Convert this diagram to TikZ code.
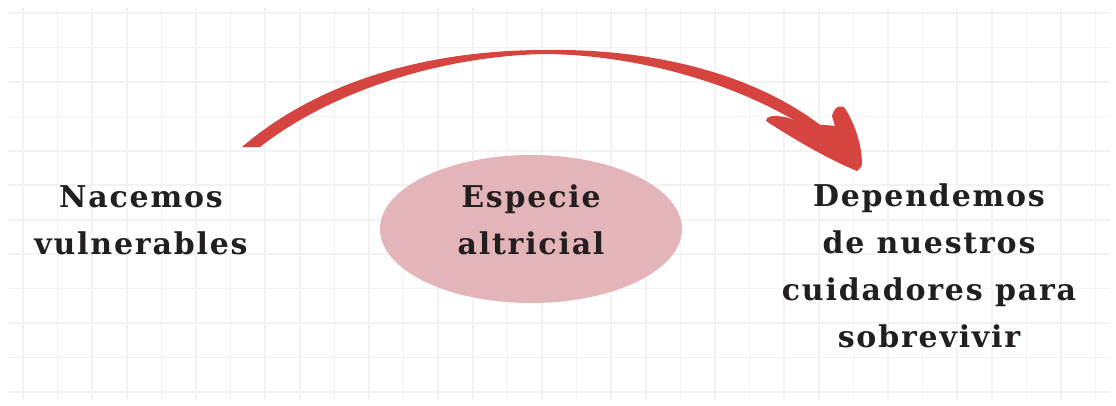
\documentclass[tikz,border=0pt]{standalone}
\usepackage{fontspec}
\setmainfont{DejaVu Serif}[LetterSpace=6]
\usepackage{tikz}
\usetikzlibrary{shapes.geometric}
\definecolor{gridgray}{RGB}{243,243,243}
\definecolor{arrowred}{RGB}{214,68,64}
\definecolor{blobpink}{RGB}{228,181,184}
\definecolor{inkdark}{RGB}{35,31,32}
\tikzset{
	gridline/.style={draw=gridgray, line width=1.6pt},
	bigtext/.style={align=center, text=inkdark, inner sep=0pt, font=\bfseries\fontsize{30}{47}\selectfont},
	blob/.style={ellipse, fill=blobpink, minimum width=302pt, minimum height=148pt, inner sep=0pt}
}
\begin{document}
\begin{tikzpicture}[x=1pt, y=-1pt]
				\useasboundingbox[fill=white] (0,0) rectangle (1116,405);
				\foreach \gx in {0,...,31} {
					\draw[gridline] ({23+\gx*34.6},8) -- ({23+\gx*34.6},400);
				}
				\foreach \gy in {0,...,11} {
					\draw[gridline] (8,{13+\gy*34.45}) -- (1110,{13+\gy*34.45});
				}
				\node[blob] (especie) at (531,229) {};
				\node[bigtext] (altricial) at (531,220) {Especie\\altricial};
				\node[bigtext] (nacemos) at (141,220) {Nacemos\\vulnerables};
				\node[bigtext] (dependemos) at (929,266) {Dependemos\\de nuestros\\cuidadores para\\sobrevivir};
				\coordinate (arrstart) at (251,147);
				\coordinate (arrtip) at (860,168);
				\fill[arrowred] (arrstart) ++(-9,0) .. controls (320,80) and (430,50) .. (545,50)
					.. controls (660,48) and (785,78) .. (856,158) -- (arrtip)
					.. controls (778,92) and (650,55) .. (545,54)
					.. controls (440,56) and (330,92) .. (260,147) -- cycle;
				\fill[arrowred] (832,116) .. controls (834,106) and (843,103) .. (846,110)
					.. controls (855,125) and (862,145) .. (862,165) -- (arrtip) -- (836,130) -- cycle;
				\fill[arrowred] (766,121) .. controls (766,116) and (772,115) .. (785,117)
					.. controls (810,124) and (835,140) .. (861,163) -- (arrtip) -- (857,171)
					.. controls (830,160) and (795,140) .. cycle;
				\fill[arrowred] (810,124) -- (838,126) -- (arrtip) -- cycle;
			\end{tikzpicture}
\end{document}
